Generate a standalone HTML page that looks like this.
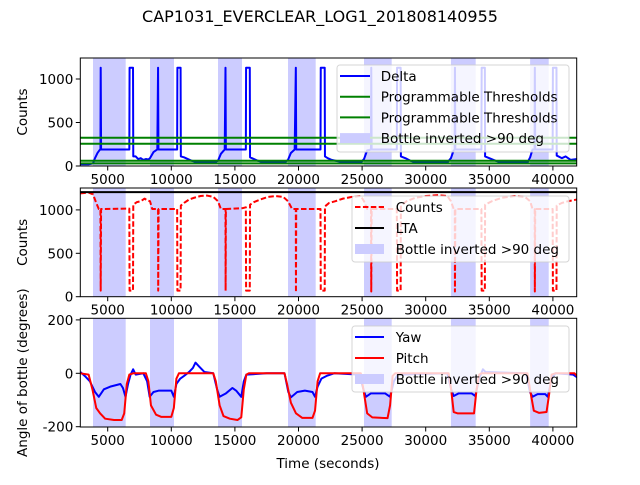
<!DOCTYPE html>
<html><head><meta charset="utf-8"><style>
html,body{margin:0;padding:0;background:#fff;}
svg text{font-family:"DejaVu Sans","Liberation Sans",sans-serif;}
</style></head><body>
<svg id="fig" width="640" height="480" viewBox="0 0 640 480" xmlns="http://www.w3.org/2000/svg">
<rect width="640" height="480" fill="#fff"/>
<text x="320" y="22" text-anchor="middle" font-size="16">CAP1031_EVERCLEAR_LOG1_201808140955</text>
</svg>
<script>
const spanStart=[3844,8326,13671,19175,25150,31985,38210];
const spanEnd=[6415,10212,13671+1887,21352,27327,33930,39670];
const thresholds=[325,256,60,30];
const xTicks=[5000,10000,15000,20000,25000,30000,35000,40000];
const deltaT=[2850,3500,3844,4000,4200,4400,4430,4450,4480,6700,6720,6990,7010,7200,7400,7600,7800,8000,8200,8326,8600,8900,8960,8990,10460,10480,10730,10750,11000,11300,11600,12000,12500,13400,13671,13900,14200,14260,14290,15860,15880,16170,16190,16500,16800,17200,17800,18900,19175,19400,19700,19790,19820,21730,21750,22060,22080,22300,22600,22900,23300,23800,24900,25150,25400,25700,25720,25750,27730,27750,28030,28050,28400,28800,29300,31700,31985,32200,32280,32300,32330,34380,34400,34650,34670,35000,35500,36000,38000,38210,38400,38560,38580,38610,39980,40000,40280,40300,40700,41000,41400,41900];
const deltaV=[20,20,30,90,150,190,190,1130,190,190,1130,1130,110,110,80,90,70,80,75,90,160,190,1130,190,190,1130,1130,110,100,80,60,45,40,40,60,140,190,1130,190,190,1130,1130,100,80,60,45,40,40,70,150,190,1130,190,190,1130,1130,110,90,70,60,50,40,40,80,180,190,1130,190,190,1130,1130,110,90,60,40,40,90,180,190,1130,190,190,1130,1130,110,90,60,40,40,100,190,190,1130,190,190,1130,1130,120,90,110,70,80];
const countsT=[2850,3500,3844,4100,4300,4430,4450,4480,6700,6720,6990,7010,7300,7600,7900,8100,8326,8500,8960,8970,9000,10460,10480,10730,10750,11000,11400,11800,12300,12800,13300,13671,13900,14260,14270,14290,15600,15860,15880,16170,16190,16500,17000,17600,18200,18800,19175,19500,19790,19800,19820,21730,21750,22060,22080,22400,22900,23500,24200,24900,25150,25400,25700,25720,25750,27730,27750,28030,28050,28500,29200,30000,31000,31700,31985,32200,32290,32300,32330,34380,34400,34650,34670,35200,36000,37000,37800,38210,38400,38570,38580,38610,39980,40000,40280,40300,40700,41200,41900];
const countsV=[1190,1200,1180,1080,1010,1010,70,1010,1015,70,70,1060,1090,1100,1130,1110,1100,1010,1010,70,1010,1010,70,70,1050,1080,1120,1140,1160,1165,1150,1100,1010,1010,70,1010,1020,1030,70,70,1060,1090,1120,1150,1160,1150,1100,1010,1010,50,1010,1010,70,70,1040,1080,1100,1130,1150,1160,1100,1010,1010,60,1010,1010,70,70,1050,1100,1140,1160,1170,1160,1100,1010,1010,60,1010,1010,70,70,1060,1100,1140,1160,1150,1100,1010,1010,60,1010,1010,70,70,1050,1080,1100,1120];
const ltaT=[2850,41900];
const ltaV=[1205,1205];
const pitchT=[2850,3500,3800,4100,4400,4800,5500,6100,6300,6500,6700,7000,8000,8200,8400,8800,9200,10000,10200,10400,10600,13300,13500,13800,14100,14600,15200,15500,15700,15900,16100,18900,19100,19400,19800,20300,21100,21300,21500,21700,24900,25100,25400,25800,27000,27200,27400,27600,31800,32000,32200,32500,33800,34000,34200,34400,38000,38200,38500,38900,39500,39700,39900,40200,41700,41900];
const pitchV=[0,-5,-60,-130,-150,-170,-175,-175,-150,-40,-5,0,0,-30,-120,-155,-163,-163,-130,-20,0,0,-30,-120,-160,-170,-175,-165,-60,-5,0,0,-40,-110,-150,-167,-167,-140,-30,0,0,-60,-150,-165,-168,-120,-10,0,0,-60,-145,-150,-150,-60,-5,0,0,-60,-140,-148,-145,-80,-5,0,0,-10];
const yawT=[2850,3200,3600,4000,4300,4700,5200,6000,6200,6400,6600,6800,7000,7200,7800,8100,8300,8600,9000,10000,10200,10400,10700,11000,11400,11700,11900,12200,12600,13300,13600,13800,14300,14800,15100,15500,15700,15900,17500,18900,19200,19400,19900,20500,21100,21300,21500,21800,22200,22800,24800,25100,25300,25700,26800,27200,27500,27800,31700,32000,32200,32600,33600,33900,34200,34500,34700,37900,38200,38400,38800,39400,39600,39900,40200,41600,41900];
const yawV=[5,-10,-30,-70,-88,-60,-50,-40,-55,-88,-40,-5,15,-5,0,-30,-88,-70,-65,-65,-88,-40,-20,-10,5,20,40,25,5,0,-60,-88,-75,-55,-65,-88,-30,-5,0,0,-70,-90,-70,-65,-70,-88,-50,-20,-10,0,-5,-60,-88,-75,-75,-88,-30,-5,0,-60,-85,-75,-75,-85,-20,15,5,0,-70,-88,-78,-78,-88,-20,0,-5,-15];

const NS='http://www.w3.org/2000/svg';
const svg=document.getElementById('fig');
const L=80.3,R=576.7;
function xs(t){return L+(t-2846)*0.01272;}
const panels=[
 {top:58,bot:166,y0:166,k:0.087,yt:[0,500,1000],ylab:'Counts',name:'delta-panel'},
 {top:188,bot:296.7,y0:296.7,k:0.0868,yt:[0,500,1000],ylab:'Counts',name:'counts-panel'},
 {top:318.3,bot:427,y0:373.3,k:0.267,yt:[-200,0,200],ylab:'Angle of bottle (degrees)',name:'angle-panel'}];
function mk(tag,attrs,parent){const e=document.createElementNS(NS,tag);for(const a in attrs)e.setAttribute(a,attrs[a]);(parent||svg).appendChild(e);return e;}
function ysFor(p){return v=>p.y0-v*p.k;}
function poly(T,V,ys,style,parent){let d='';for(let i=0;i<T.length;i++){d+=(i?'L':'M')+xs(T[i]).toFixed(2)+','+ys(V[i]).toFixed(2);}return mk('path',Object.assign({d:d,fill:'none','stroke-linejoin':'round'},style),parent);}

panels.forEach((p,pi)=>{
 const ys=ysFor(p);
 const g=mk('g',{});
 
 
 const cid='clip'+pi;
 const cp=mk('clipPath',{id:cid},g);mk('rect',{x:L,y:p.top,width:R-L,height:p.bot-p.top},cp);
 const pg=mk('g',{'clip-path':'url(#'+cid+')'},g);
 for(let i=0;i<spanStart.length;i++){
  const r=mk('rect',{x:xs(spanStart[i]),y:p.top,width:xs(spanEnd[i])-xs(spanStart[i]),height:p.bot-p.top,fill:'#ccccff'},pg);
  
  
 }
 if(pi===0){
  const d=poly(deltaT,deltaV,ys,{stroke:'#0000ff','stroke-width':2},pg);
  
  
  thresholds.forEach(v=>{const l=mk('line',{x1:L,x2:R,y1:ys(v),y2:ys(v),stroke:'#008000','stroke-width':2},pg);
   
   });
 } else if(pi===1){
  const c=poly(countsT,countsV,ys,{stroke:'#ff0000','stroke-width':2,'stroke-dasharray':'5.5,2.4'},pg);
  
  
  const l=poly(ltaT,ltaV,ys,{stroke:'#000','stroke-width':2},pg);
  
  
 } else {
  const y=poly(yawT,yawV,ys,{stroke:'#0000ff','stroke-width':2},pg);
  
  
  const q=poly(pitchT,pitchV,ys,{stroke:'#ff0000','stroke-width':2},pg);
  
  
 }
 mk('rect',{x:L,y:p.top,width:R-L,height:p.bot-p.top,fill:'none',stroke:'#000','stroke-width':1},g);
 xTicks.forEach(t=>{const x=xs(t);mk('line',{x1:x,x2:x,y1:p.bot,y2:p.bot+4.5,stroke:'#000','stroke-width':1},g);
  const tx=mk('text',{x:x,y:p.bot+18,'text-anchor':'middle','font-size':'13.5'},g);tx.textContent=t;
  
  });
 p.yt.forEach(v=>{const y=ys(v);mk('line',{x1:L-4.5,x2:L,y1:y,y2:y,stroke:'#000','stroke-width':1},g);
  const tx=mk('text',{x:L-7,y:y+5,'text-anchor':'end','font-size':'13.5'},g);tx.textContent=v;
  
  });
 const cy=(p.top+p.bot)/2;
 const yl=mk('text',{x:0,y:0,'text-anchor':'middle','font-size':'13.5',transform:'translate(27,'+cy+') rotate(-90)'},g);
 yl.textContent=p.ylab;
 
 
});
const xl=mk('text',{x:328,y:468,'text-anchor':'middle','font-size':'13.5'});
xl.textContent='Time (seconds)';



const legends=[
 {x:337,y:65,w:232,h:87,tx:380.7,hx:[340,370],rows:[['line','#0000ff','Delta'],['line','#008000','Programmable Thresholds'],['line','#008000','Programmable Thresholds'],['patch','#ccccff','Bottle inverted >90 deg']],r0:76,dy:20.7},
 {x:352,y:196,w:217,h:66,tx:395.7,hx:[355,384],rows:[['dash','#ff0000','Counts'],['line','#000','LTA'],['patch','#ccccff','Bottle inverted >90 deg']],r0:207,dy:21},
 {x:352,y:326,w:217,h:66,tx:395.7,hx:[355,384],rows:[['line','#0000ff','Yaw'],['line','#ff0000','Pitch'],['patch','#ccccff','Bottle inverted >90 deg']],r0:337,dy:21}];
legends.forEach((lg,i)=>{
 const g=mk('g',{});
 
 
 mk('rect',{x:lg.x,y:lg.y,width:lg.w,height:lg.h,rx:3,fill:'#fff','fill-opacity':0.8,stroke:'#cccccc','stroke-opacity':0.8,'stroke-width':1},g);
 lg.rows.forEach((r,j)=>{
  const y=lg.r0+j*lg.dy;
  if(r[0]==='patch'){mk('rect',{x:lg.hx[0],y:y-5,width:lg.hx[1]-lg.hx[0],height:10,fill:r[1]},g);}
  else{const a={x1:lg.hx[0],x2:lg.hx[1],y1:y,y2:y,stroke:r[1],'stroke-width':2};if(r[0]==='dash')a['stroke-dasharray']='5.5,2.4';mk('line',a,g);}
  const t=mk('text',{x:lg.tx,y:y+5,'font-size':'13.5'},g);t.textContent=r[2];
  
  
 });
});
</script>
</body></html>
